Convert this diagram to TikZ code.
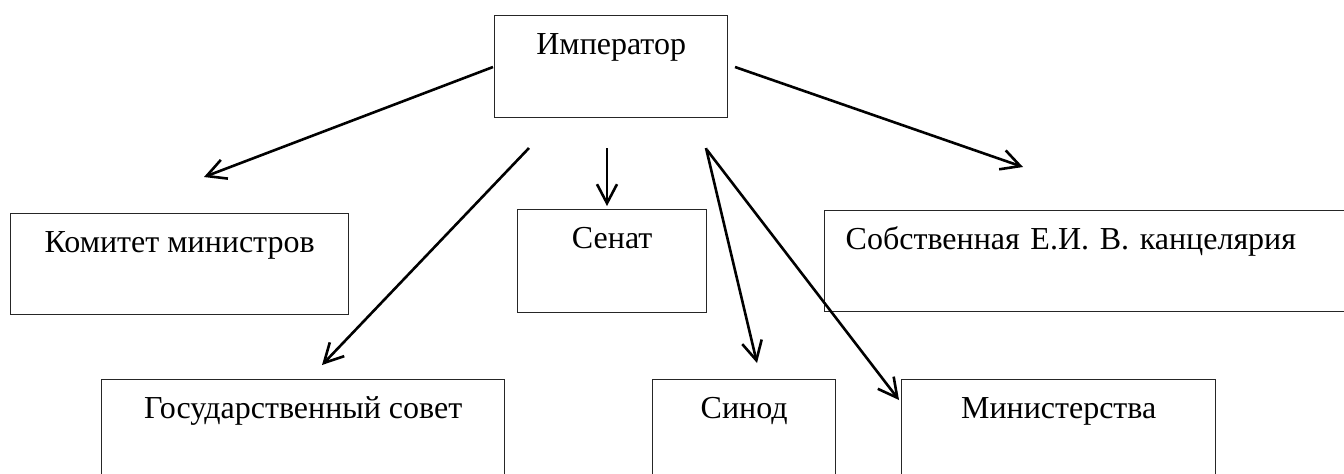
\documentclass[tikz,border=0pt]{standalone}
\usepackage{fontspec}
\setmainfont{Liberation Serif}
\usetikzlibrary{arrows.meta}
\begin{document}
\begin{tikzpicture}[x=0.5pt,y=-0.5pt,
  orgbox/.style={draw=black!85, line width=0.7pt, rectangle, anchor=north west,
    inner xsep=0pt, inner ysep=0pt, text height=19.5pt, text depth=31.5pt,
    font=\fontsize{16}{19}\selectfont},
  link/.style={line width=1.3pt, -{Straight Barb[length=9.5pt,width=10pt,line width=1.3pt]}}]
\useasboundingbox (0,0) rectangle (1344,473);
\clip (0,0) rectangle (1344,473);
% boxes
\node[orgbox, minimum width=116.5pt] (imp) at (494,15) {Император};
\node[orgbox, minimum width=169pt, text depth=31pt] (kom) at (10,213) {Комитет министров};
\node[orgbox, minimum width=94.5pt, text depth=32pt] (sen) at (517,209) {Сенат};
\node[orgbox, minimum width=300pt, text width=300pt-21pt, inner xsep=10.5pt, align=left, text depth=31pt] (sob) at (824,210) {Собственная Е.И.\ В.\ канцелярия};
\node[orgbox, minimum width=201.5pt] (gos) at (101,379) {Государственный совет};
\node[orgbox, minimum width=91.5pt] (sin) at (652,379) {Синод};
\node[orgbox, minimum width=157pt] (min) at (901,379) {Министерства};
% connector ends
\coordinate (s1) at (493,67);   \coordinate (e1) at (204,177);
\coordinate (s2) at (529,148);  \coordinate (e2) at (322,365);
\coordinate (s3) at (607,148);  \coordinate (e3) at (607,206);
\coordinate (s4) at (706,148);  \coordinate (e4) at (757,363);
\coordinate (s5) at (707,150);  \coordinate (e5) at (899,400);
\coordinate (s6) at (735,67);   \coordinate (e6) at (1023,167);
% connectors
\draw[link] (s1) -- (e1);
\draw[link] (s2) -- (e2);
\draw[link] (s3) -- (e3);
\draw[link] (s4) -- (e4);
\draw[link] (s5) -- (e5);
\draw[link] (s6) -- (e6);
\end{tikzpicture}
\end{document}
